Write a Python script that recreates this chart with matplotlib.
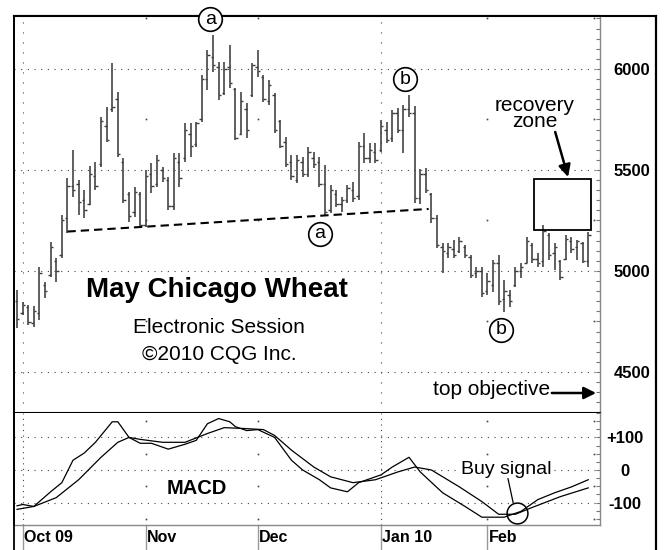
import matplotlib
matplotlib.use('Agg')
import matplotlib.pyplot as plt
from matplotlib.lines import Line2D
from matplotlib.ticker import MultipleLocator
from matplotlib.transforms import blended_transform_factory

plt.rcParams['font.family'] = ['Liberation Sans', 'DejaVu Sans']

# ---------------- data ----------------
bar_high = [4906, 4847, 4832, 4827, 5020, 4946, 5144, 5064, 5277, 5460,
            5599, 5450, 5401, 5520, 5540, 5762, 5812, 6030, 5886, 5559,
            5391, 5416, 5391, 5500, 5535, 5574, 5515, 5465, 5584, 5584,
            5733, 5733, 5738, 5970, 6094, 6168, 6035, 6035, 6119, 5906,
            5886, 5832, 6030, 6094, 5970, 5946, 5881, 5748, 5663, 5574,
            5574, 5564, 5614, 5589, 5564, 5525, 5426, 5401, 5366, 5426,
            5441, 5639, 5683, 5634, 5634, 5748, 5738, 5797, 5807, 5822,
            5871, 5817, 5505, 5510, 5386, 5277, 5139, 5139, 5154, 5168,
            5129, 5079, 5020, 5020, 4990, 5054, 5079, 4955, 4906, 5020,
            5040, 5168, 5139, 5089, 5228, 5188, 5139, 5055, 5178, 5168,
            5154, 5144, 5193]
bar_low = [4718, 4782, 4733, 4723, 4758, 4866, 4970, 4946, 5064, 5188,
           5366, 5277, 5262, 5327, 5401, 5515, 5639, 5787, 5564, 5337,
           5243, 5267, 5218, 5218, 5386, 5416, 5441, 5302, 5302, 5416,
           5540, 5564, 5614, 5738, 5896, 5985, 5847, 5871, 5906, 5649,
           5673, 5658, 5861, 5960, 5837, 5822, 5683, 5609, 5515, 5450,
           5436, 5465, 5465, 5510, 5416, 5277, 5287, 5317, 5292, 5337,
           5342, 5352, 5535, 5535, 5535, 5589, 5634, 5639, 5683, 5584,
           5762, 5337, 5332, 5386, 5238, 5114, 4990, 5064, 5064, 5089,
           5064, 4965, 4965, 4871, 4881, 4896, 4832, 4797, 4822, 4921,
           4965, 5040, 5040, 5020, 5020, 5055, 5005, 4955, 5055, 5089,
           5055, 5040, 5020]
bar_open = [4850, 4790, 4820, 4740, 4790, 4930, 4980, 5050, 5080, 5260,
            5420, 5430, 5350, 5330, 5470, 5530, 5720, 5800, 5850, 5540,
            5380, 5290, 5380, 5230, 5480, 5430, 5500, 5450, 5320, 5540,
            5560, 5680, 5630, 5750, 5950, 6060, 6010, 5880, 6010, 5900,
            5680, 5800, 5870, 6010, 5960, 5840, 5870, 5740, 5640, 5540,
            5450, 5540, 5480, 5560, 5540, 5430, 5300, 5380, 5330, 5350,
            5400, 5370, 5620, 5560, 5590, 5600, 5700, 5660, 5780, 5700,
            5800, 5780, 5360, 5480, 5380, 5260, 5120, 5090, 5110, 5100,
            5120, 5070, 4990, 5000, 4900, 4930, 5040, 4860, 4880, 4930,
            5000, 5040, 5130, 5060, 5050, 5180, 5090, 5050, 5060, 5150,
            5120, 5140, 5050]
bar_close = [4760, 4830, 4745, 4800, 4990, 4900, 5120, 5000, 5250, 5420,
             5400, 5340, 5300, 5480, 5420, 5740, 5650, 5810, 5580, 5350,
             5270, 5390, 5230, 5470, 5420, 5550, 5460, 5320, 5560, 5460,
             5700, 5620, 5730, 5950, 6070, 6020, 5870, 6000, 5930, 5660,
             5840, 5700, 6020, 5990, 5850, 5920, 5700, 5620, 5530, 5470,
             5550, 5480, 5590, 5530, 5430, 5290, 5400, 5330, 5350, 5410,
             5360, 5620, 5560, 5600, 5550, 5720, 5650, 5780, 5700, 5800,
             5780, 5360, 5480, 5400, 5260, 5130, 5100, 5120, 5080, 5150,
             5080, 4980, 5000, 4890, 4950, 5040, 4850, 4900, 4850, 5000,
             5020, 5150, 5060, 5040, 5200, 5080, 5120, 4970, 5160, 5110,
             5150, 5050, 5180]
bar_idx = list(range(len(bar_high)))

macd_idx = [0, 1, 3, 6, 8, 10, 12, 14, 17, 18, 20, 22, 24, 27, 30, 32, 34,
            36, 38, 39, 41, 43, 46, 49, 51, 54, 56, 59, 61, 65, 67, 70, 72,
            76, 80, 83, 87, 90, 93, 96, 99, 102]
macd_fast = [-110, -106, -112, -67, -39, 30, 52, 85, 148, 148, 100, 82, 82,
             64, 79, 91, 142, 158, 148, 133, 121, 124, 100, 30, 0, -30, -55,
             -67, -39, -15, 9, 39, -6, -70, -112, -145, -145, -127, -91,
             -70, -52, -30]
sig_idx = [0, 3, 7, 11, 15, 18, 20, 22, 26, 30, 34, 37, 41, 44, 46, 49, 53,
           56, 60, 64, 68, 71, 74, 79, 83, 86, 89, 92, 97, 102]
macd_signal = [-121, -112, -85, -30, 39, 85, 100, 94, 85, 85, 112, 130, 127,
               124, 106, 61, 9, -21, -39, -30, -6, 9, 0, -52, -97, -136,
               -136, -115, -82, -55]

month_idx = [1, 23, 43, 65, 84]
month_labels = ['Oct 09', 'Nov', 'Dec', 'Jan 10', 'Feb']
dot_month_idx = [23, 43, 84, 103]
price_ticks = [4500, 5000, 5500, 6000]
price_dot_levels = [4750, 5250, 5750, 6250]
macd_ticks = [-100, 0, 100]
macd_tick_labels = ['-100', '0', '+100']
macd_dot_levels = [-150, -50, 50, 150]

trend_idx = [9, 73.5]
trend_price = [5195, 5307]
zone_idx = [92.3, 102.5]
zone_price = [5205, 5455]
wave_labels = ['a', 'b', 'a', 'b']
wave_idx = [34.5, 69.3, 54.1, 86.4]
wave_price = [6247, 5950, 5183, 4708]
recovery_text_pos = (92.5, 5777)
recovery_arrow_from = (96.1, 5688)
recovery_arrow_to = (98.4, 5465)
objective_from = (95.5, 4396)
objective_to = (103.4, 4396)
buy_circle = (89.3, -132)
buy_text_pos = (87.3, 3)
buy_line_to = (88.6, -101)

# ---------------- layout ----------------
W, H = 665, 550
fig = plt.figure(figsize=(W / 100, H / 100), dpi=100)
fig.patch.set_facecolor('white')

def fx(px):
    return px / W

def fy(py):
    return 1 - py / H

L, R = 14, 600
T, M, B = 16, 413, 525
ax = fig.add_axes([fx(L), fy(M), fx(R) - fx(L), fy(T) - fy(M)])
axm = fig.add_axes([fx(L), fy(B), fx(R) - fx(L), fy(M) - fy(B)])

XMIN, XMAX = -0.54, 104.1
ax.set_xlim(XMIN, XMAX)
ax.set_ylim(4297, 6262)
axm.set_xlim(XMIN, XMAX)
axm.set_ylim(-169, 175)

grid_c = '#444444'
# price grid
for p in price_ticks:
    ax.axhline(p, color=grid_c, lw=0.8, linestyle=(0, (1, 5)), zorder=1)
for m in (month_idx[0], month_idx[3]):
    ax.axvline(m, color=grid_c, lw=0.8, linestyle=(0, (1, 8)), zorder=1)
    axm.axvline(m, color=grid_c, lw=0.8, linestyle=(0, (1, 4)), zorder=1)
for m in dot_month_idx:
    for lv in price_dot_levels:
        ax.plot(m, lv, marker='s', ms=1.2, color=grid_c, mew=0, zorder=1,
                clip_on=False)
    for lv in macd_dot_levels:
        axm.plot(m, lv, marker='s', ms=1.2, color=grid_c, mew=0, zorder=1,
                 clip_on=False)
for v in macd_ticks:
    axm.axhline(v, color=grid_c, lw=0.8, linestyle=(0, (1, 5)), zorder=1)

# bars
bc = '#3c3c3c'
ax.vlines(bar_idx, bar_low, bar_high, color=bc, lw=1.15, zorder=3)
ax.hlines(bar_open, [i - 0.42 for i in bar_idx], bar_idx, color=bc, lw=1.0,
          zorder=3)
ax.hlines(bar_close, bar_idx, [i + 0.42 for i in bar_idx], color=bc, lw=1.0,
          zorder=3)

# trend line
ax.plot(trend_idx, trend_price, color='black', lw=1.5, dashes=(4, 2.4),
        zorder=4)

# recovery zone
ax.add_patch(plt.Rectangle((zone_idx[0], zone_price[0]),
                           zone_idx[1] - zone_idx[0],
                           zone_price[1] - zone_price[0],
                           fill=False, ec='black', lw=1.3, zorder=4))
ax.text(*recovery_text_pos, 'recovery\nzone', ha='center', va='center',
        fontsize=15, linespacing=0.8, zorder=5)
ax.annotate('', xy=recovery_arrow_to, xytext=recovery_arrow_from,
            arrowprops=dict(arrowstyle='-|>', color='black', lw=1.8,
                            mutation_scale=18, shrinkA=0, shrinkB=0),
            zorder=5)

# top objective
ax.text(objective_from[0] - 0.3, objective_from[1] + 15, 'top objective',
        ha='right', va='center', fontsize=15, zorder=5)
ax.annotate('', xy=objective_to, xytext=objective_from,
            arrowprops=dict(arrowstyle='-|>', color='black', lw=1.8,
                            mutation_scale=18, shrinkA=0, shrinkB=0),
            annotation_clip=False, zorder=5)

# wave labels
for lab, i, p in zip(wave_labels, wave_idx, wave_price):
    ax.plot(i, p, marker='o', ms=17, mfc='white', mec='black', mew=1.2,
            zorder=6, clip_on=False)
    ax.text(i, p, lab, ha='center', va='center', fontsize=14, zorder=7,
            clip_on=False)

# title block
ax.text(0.3464, 0.292, 'May Chicago Wheat', transform=ax.transAxes,
        ha='center', va='baseline', fontsize=20, fontweight='bold', zorder=5)
ax.text(0.3500, 0.2015, 'Electronic Session', transform=ax.transAxes,
        ha='center', va='baseline', fontsize=15, zorder=5)
ax.text(0.3500, 0.1335, '\u00a92010 CQG Inc.', transform=ax.transAxes,
        ha='center', va='baseline', fontsize=15, zorder=5)

# MACD lines
axm.plot(macd_idx, macd_fast, color='black', lw=0.9, zorder=3)
axm.plot(sig_idx, macd_signal, color='black', lw=0.9, zorder=3)
axm.text(0.312, 0.33, 'MACD', transform=axm.transAxes, ha='center',
         va='center', fontsize=14.5, fontweight='bold', zorder=5)
axm.plot(*buy_circle, marker='o', ms=15, mfc='none', mec='black', mew=1.1,
         zorder=5)
axm.annotate('Buy signal', xy=buy_line_to, xytext=buy_text_pos,
             ha='center', va='center', fontsize=14,
             bbox=dict(boxstyle='square,pad=0.05', fc='white', ec='none'),
             arrowprops=dict(arrowstyle='-', color='black', lw=0.9,
                             shrinkA=0, shrinkB=0),
             zorder=6)

# axes styling
for a in (ax, axm):
    a.set_xticks([])
    a.yaxis.tick_right()
    a.spines['left'].set_color('black')
    a.spines['left'].set_linewidth(1.3)
    a.spines['right'].set_color('#888888')
    a.spines['right'].set_linewidth(1.0)
    a.tick_params(axis='y', which='both', direction='in', length=3,
                  color='#777777', width=0.8)
    a.set_facecolor('white')
ax.spines['top'].set_linewidth(1.5)
ax.spines['bottom'].set_linewidth(1.5)
ax.spines['bottom'].set_color('black')
axm.spines['top'].set_visible(False)
axm.spines['bottom'].set_color('#888888')
axm.spines['bottom'].set_linewidth(1.0)

ax.yaxis.set_minor_locator(MultipleLocator(50))
ax.set_yticks(price_ticks)
ax.set_yticklabels([str(p) for p in price_ticks], fontsize=12,
                   fontweight='bold')
ax.tick_params(axis='y', which='major', pad=23)
axm.yaxis.set_minor_locator(MultipleLocator(25))
axm.set_yticks(macd_ticks)
axm.set_yticklabels(macd_tick_labels, fontsize=12, fontweight='bold')
axm.tick_params(axis='y', which='major', pad=18)
for lab in ax.get_yticklabels() + axm.get_yticklabels():
    lab.set_horizontalalignment('center')

# month labels below MACD
tr = blended_transform_factory(axm.transData, axm.transAxes)
for m, lab in zip(month_idx, month_labels):
    axm.plot([m, m], [0, -0.21], color='#999999', lw=1.0, transform=tr,
             clip_on=False)
    axm.text(m + 0.25, -0.11, lab, transform=tr, ha='left', va='center',
             fontsize=11.5, fontweight='bold')

# outer frame
fig.add_artist(Line2D([fx(14), fx(656)], [fy(16), fy(16)],
                      transform=fig.transFigure, color='black', lw=1.5,
                      zorder=0))
fig.add_artist(Line2D([fx(656), fx(656)], [fy(16), fy(550)],
                      transform=fig.transFigure, color='black', lw=1.6))
fig.add_artist(Line2D([fx(14), fx(14)], [fy(16), fy(550)],
                      transform=fig.transFigure, color='black', lw=1.3))

fig.savefig('out.png', dpi=100, facecolor='white')
